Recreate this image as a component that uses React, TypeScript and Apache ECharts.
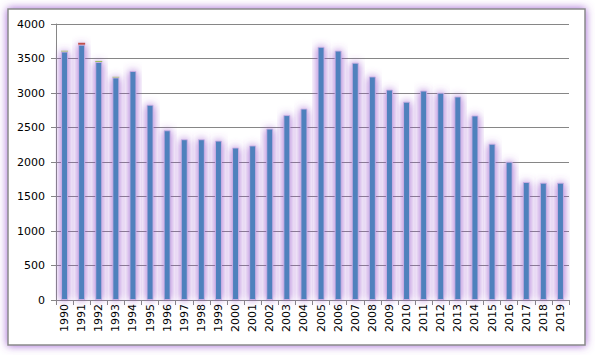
import React, { useEffect, useRef } from "react";
import * as echarts from "echarts";

const years = ["1990","1991","1992","1993","1994","1995","1996","1997","1998","1999","2000","2001","2002","2003","2004","2005","2006","2007","2008","2009","2010","2011","2012","2013","2014","2015","2016","2017","2018","2019"];
const mainValues = [3600,3700,3450,3225,3320,2830,2460,2330,2330,2310,2210,2240,2485,2680,2775,3670,3615,3440,3240,3050,2875,3035,3005,2950,2675,2265,2005,1710,1700,1700];
const redValues = [null,28,null,null,null,null,null,null,null,null,null,null,null,null,null,null,null,null,null,null,null,null,null,null,null,null,null,null,null,null];
const greenValues = [12,null,15,10,null,null,null,null,null,null,null,null,null,null,null,null,null,null,null,null,null,null,null,null,null,null,null,null,null,null];
const yTicks = { min: 0, max: 4000, interval: 500 };

export default function App() {
  const ref = useRef<HTMLDivElement>(null);
  useEffect(() => {
    if (!ref.current) return;
    const chart = echarts.init(ref.current, null, { renderer: "svg" });
    const glow = { shadowBlur: 9, shadowColor: "rgba(150,80,205,0.95)", borderColor: "rgba(205,175,230,0.9)", borderWidth: 1 };
    const font = "DejaVu Sans, Verdana, sans-serif";
    chart.setOption({
      animation: false,
      backgroundColor: "#ffffff",
      graphic: [
        {
          type: "rect",
          shape: { x: 8, y: 9, width: 577, height: 336 },
          style: { fill: "#ffffff", stroke: "#8a8a8a", lineWidth: 1.5, shadowBlur: 8, shadowColor: "rgba(150,80,205,0.9)" },
          z: -10,
          silent: true,
        },
      ],
      grid: { left: 56, right: 26, top: 24, bottom: 55, containLabel: false },
      xAxis: {
        type: "category",
        data: years,
        boundaryGap: true,
        axisLine: { show: true, lineStyle: { color: "#868686", width: 1 } },
        axisTick: { show: true, alignWithLabel: false, length: 5, lineStyle: { color: "#868686" } },
        axisLabel: { interval: 0, rotate: 90, fontSize: 11, color: "#000", fontFamily: font, margin: 4 },
      },
      yAxis: {
        type: "value",
        min: yTicks.min,
        max: yTicks.max,
        interval: yTicks.interval,
        axisLine: { show: true, lineStyle: { color: "#868686", width: 1 } },
        axisTick: { show: true, length: 5, lineStyle: { color: "#868686" } },
        axisLabel: { fontSize: 11, color: "#000", fontFamily: font, margin: 11, formatter: (v: number) => String(v) },
        splitLine: { show: true, lineStyle: { color: "#868686", width: 1 } },
      },
      series: [
        {
          type: "bar",
          stack: "s",
          data: mainValues,
          barWidth: 7,
          itemStyle: { color: "#4F81BD", ...glow },
        },
        {
          type: "bar",
          stack: "s",
          data: redValues,
          barWidth: 7,
          itemStyle: { color: "#C0504D" },
        },
        {
          type: "bar",
          stack: "s",
          data: greenValues,
          barWidth: 7,
          itemStyle: { color: "#9BBB59" },
        },
      ],
    });
    return () => chart.dispose();
  }, []);
  return <div ref={ref} style={{ width: 595, height: 355, position: "absolute", left: 0, top: 0 }} />;
}
